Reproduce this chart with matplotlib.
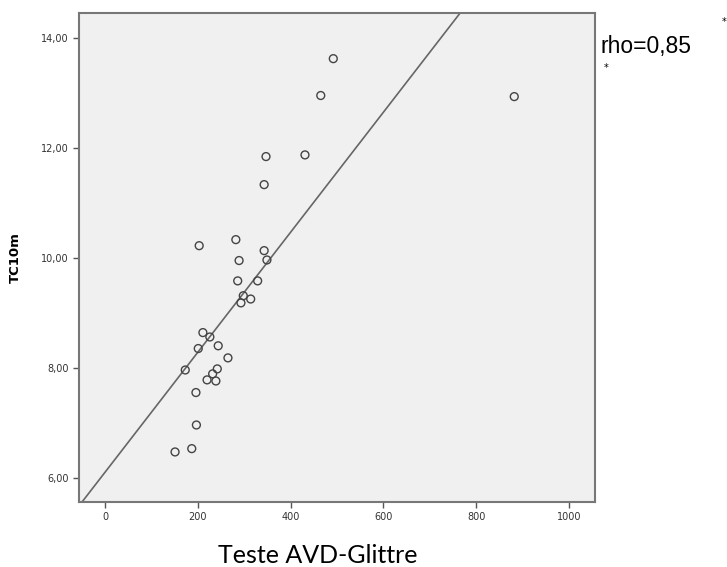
import numpy as np
import matplotlib.pyplot as plt
from matplotlib.ticker import FuncFormatter

# Teste AVD-Glittre (s) vs TC10m
avd = [151, 187, 197, 196, 173, 201, 211, 226, 244, 265, 242, 232, 220, 239,
       203, 282, 343, 289, 349, 286, 329, 298, 314, 293,
       492, 465, 882, 347, 431, 343]
tc10m = [6.47, 6.53, 6.96, 7.55, 7.96, 8.35, 8.64, 8.56, 8.40, 8.18, 7.98, 7.89, 7.78, 7.76,
         10.22, 10.33, 10.13, 9.95, 9.96, 9.58, 9.58, 9.31, 9.25, 9.18,
         13.62, 12.95, 12.93, 11.84, 11.87, 11.33]

# fitted line
intercept = 6.10
slope = 0.01091

x_ticks = [0, 200, 400, 600, 800, 1000]
y_ticks = [6, 8, 10, 12, 14]

fig = plt.figure(figsize=(7.27, 5.67), dpi=100)
ax = fig.add_axes([79/727, 1 - 502/567, (595-79)/727, (502-13)/567])
ax.set_facecolor('#f0f0f0')

ax.scatter(avd, tc10m, s=32, facecolors='none', edgecolors='#444444', linewidths=1.0, zorder=3)
ax.axline((0, intercept), slope=slope, color='#666666', linewidth=1.2, zorder=2)

ax.set_xlim(-56, 1056)
ax.set_ylim(5.56, 14.45)
ax.set_xticks(x_ticks)
ax.set_yticks(y_ticks)
ax.yaxis.set_major_formatter(FuncFormatter(lambda v, p: f'{v:.2f}'.replace('.', ',')))
ax.tick_params(labelsize=7, labelcolor='#333333', color='#555555', length=4, width=1)
for s in ax.spines.values():
    s.set_color('#777777')
    s.set_linewidth(1.5)

ax.set_ylabel('TC10m', fontsize=9.5, fontweight='bold')
ax.yaxis.set_label_coords((22 - 79) / 516, 0.50)

fig.text(318/727, 1 - 563/567, 'Teste AVD-Glittre', fontsize=18, family='Lato',
         ha='center', va='baseline')

fig.text(600/727, 1 - 47/567, 'rho=0,85', fontsize=16.5, family='Liberation Sans',
         ha='left', va='center')
fig.text(724/727, 1 - 22/567, '*', fontsize=7, ha='center', va='center')
fig.text(606/727, 1 - 68/567, '*', fontsize=7, ha='center', va='center')

fig.savefig('out.png', dpi=100)
